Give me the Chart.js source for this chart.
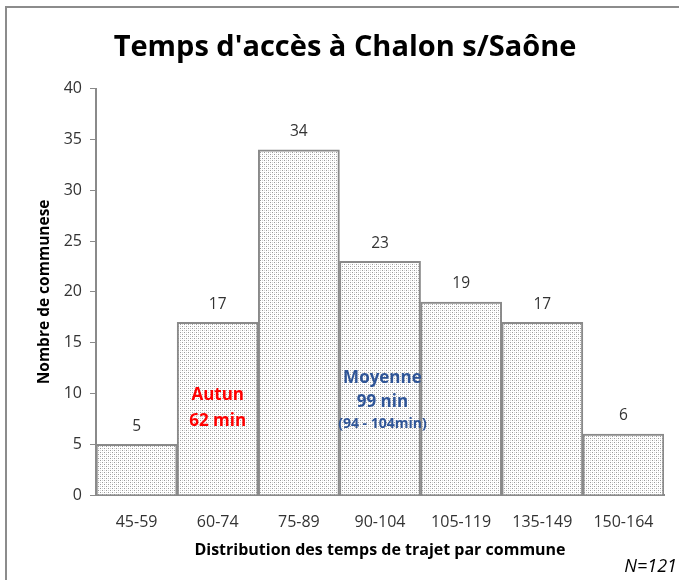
<!DOCTYPE html>
<html>
<head>
<meta charset="utf-8">
<script src="https://cdn.jsdelivr.net/npm/chart.js@4/dist/chart.umd.min.js"></script>
<style>
    html, body { margin: 0; padding: 0; background: #fff; }
    .frame {
        position: absolute; left: 5px; top: 6px; width: 800px; height: 700px;
        border-left: 2px solid #8c8c8c; border-top: 2px solid #8c8c8c;
    }
    .wrap { position: absolute; left: 0; top: 0; width: 679px; height: 580px; }
</style>
</head>
<body>
<div class="frame"></div>
<div class="wrap"><canvas id="histChart"></canvas></div>
<script>
// Data
const categories = ['45-59', '60-74', '75-89', '90-104', '105-119', '135-149', '150-164'];
const communes = [5, 17, 34, 23, 19, 17, 6];
const yTicks = [0, 5, 10, 15, 20, 25, 30, 35, 40];

const FONT = '"Open Sans", sans-serif';

// dotted fill like the original
function makePattern() {
    const c = document.createElement('canvas');
    c.width = 4; c.height = 4;
    const g = c.getContext('2d');
    g.fillStyle = '#ffffff';
    g.fillRect(0, 0, 4, 4);
    g.fillStyle = '#9a9a9a';
    g.fillRect(0, 0, 1, 1);
    g.fillRect(2, 2, 1, 1);
    g.fillStyle = '#d4d4d4';
    g.fillRect(2, 0, 1, 1);
    g.fillRect(0, 2, 1, 1);
    return g.createPattern(c, 'repeat');
}

// value labels + text notes
const notesPlugin = {
    id: 'notes',
    afterDatasetsDraw(chart) {
        const ctx = chart.ctx;
        const x = chart.scales.x;
        const y = chart.scales.y;
        const meta = chart.getDatasetMeta(0);
        ctx.save();
        ctx.textAlign = 'center';
        ctx.textBaseline = 'middle';
        ctx.fillStyle = '#333333';
        ctx.font = '15.5px ' + FONT;
        meta.data.forEach(function(bar, i) {
            ctx.fillText(communes[i], bar.x, bar.y - 18);
        });

        // Autun
        ctx.fillStyle = '#ff0000';
        ctx.font = 'bold 17px ' + FONT;
        ctx.fillText('Autun', x.getPixelForValue(1), y.getPixelForValue(9.8));
        ctx.fillText('62 min', x.getPixelForValue(1), y.getPixelForValue(7.3));

        // Moyenne
        const mx = x.getPixelForValue(3.03);
        ctx.fillStyle = '#2f5597';
        ctx.font = 'bold 17px ' + FONT;
        ctx.fillText('Moyenne', mx, y.getPixelForValue(11.5));
        ctx.fillText('99 nin', mx, y.getPixelForValue(9.1));
        ctx.font = 'bold 14px ' + FONT;
        ctx.fillText('(94 - 104min)', mx, y.getPixelForValue(7.0));

        // N
        ctx.fillStyle = '#000000';
        ctx.font = 'italic 18px ' + FONT;
        ctx.textAlign = 'right';
        ctx.fillText('N=121', chart.width - 2, chart.height - 13);
        ctx.restore();
    }
};

const ctx = document.getElementById('histChart').getContext('2d');
new Chart(ctx, {
    type: 'bar',
    data: {
        labels: categories,
        datasets: [{
            data: communes,
            backgroundColor: makePattern(),
            borderColor: '#8a8a8a',
            borderWidth: 2,
            barPercentage: 1,
            categoryPercentage: 1
        }]
    },
    options: {
        responsive: true,
        maintainAspectRatio: false,
        animation: false,
        // left padding shifts the title centre to the right like the original
        layout: { padding: { left: 26, right: 15, top: 0, bottom: 0 } },
        plugins: {
            legend: { display: false },
            tooltip: { enabled: false },
            title: {
                display: true,
                text: "Temps d'accès à Chalon s/Saône",
                color: '#000000',
                font: { family: FONT, size: 29, weight: 'bold' },
                padding: { top: 30, bottom: 24 }
            }
        },
        scales: {
            x: {
                grid: { display: false },
                border: { display: true, color: '#8a8a8a', width: 2 },
                ticks: { color: '#333333', font: { family: FONT, size: 16 }, padding: 10 },
                title: {
                    display: true,
                    text: 'Distribution des temps de trajet par commune',
                    color: '#000000',
                    font: { family: FONT, size: 16, weight: 'bold' },
                    padding: { top: 0, bottom: 20 }
                },
                afterFit: function(scale) { scale.height = 85; }
            },
            y: {
                min: 0,
                max: 40,
                afterBuildTicks: function(scale) {
                    scale.ticks = yTicks.map(function(v) { return { value: v }; });
                },
                grid: { drawOnChartArea: false, drawTicks: true, tickLength: 6, color: '#8a8a8a' },
                border: { display: true, color: '#8a8a8a', width: 2 },
                ticks: { color: '#333333', font: { family: FONT, size: 16 }, padding: 8 },
                title: {
                    display: true,
                    text: 'Nombre de communese',
                    color: '#000000',
                    font: { family: FONT, size: 15.5, weight: 'bold' },
                    padding: { top: 9, bottom: 0 }
                },
                afterFit: function(scale) { scale.width = 70; }
            }
        }
    },
    plugins: [notesPlugin]
});
</script>
</body>
</html>
